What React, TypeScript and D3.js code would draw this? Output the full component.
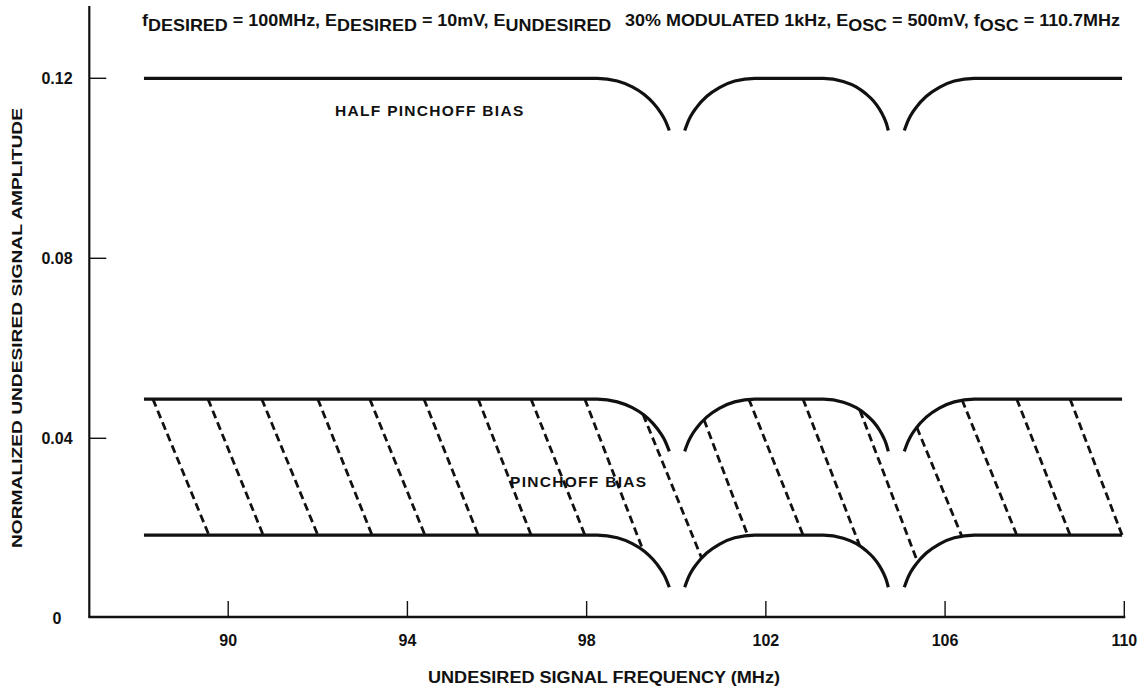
import React from "react";
import * as d3 from "d3";

// ---- data ----
const xTicks = [90, 94, 98, 102, 106, 110];
const yTicks = [0, 0.04, 0.08, 0.12];
const yTickLabels = ["0", "0.04", "0.08", "0.12"];

// Half pinchoff bias curve (three pieces separated by the dips)
const halfPinchA: [number, number][] = [[88.12, 0.12], [98.238, 0.12], [98.684, 0.1194], [99.019, 0.1181], [99.287, 0.1164], [99.488, 0.1145], [99.644, 0.1125], [99.756, 0.1106], [99.845, 0.1084]];
const halfPinchB: [number, number][] = [[100.189, 0.1084], [100.256, 0.1102], [100.323, 0.1116], [100.457, 0.1136], [100.68, 0.116], [100.97, 0.118], [101.305, 0.1194], [101.751, 0.12], [103.282, 0.12], [103.728, 0.1193], [104.019, 0.1181], [104.242, 0.1165], [104.398, 0.115], [104.532, 0.1132], [104.621, 0.1116], [104.688, 0.11], [104.733, 0.1084]];
const halfPinchC: [number, number][] = [[105.09, 0.1084], [105.157, 0.1102], [105.224, 0.1116], [105.358, 0.1136], [105.581, 0.116], [105.871, 0.118], [106.206, 0.1194], [106.652, 0.12], [109.95, 0.12]];

// Pinchoff bias: upper boundary
const pinchUpperA: [number, number][] = [[88.12, 0.0487], [98.238, 0.0487], [98.684, 0.0481], [99.019, 0.0468], [99.287, 0.0451], [99.488, 0.0432], [99.644, 0.0412], [99.756, 0.0393], [99.845, 0.0371]];
const pinchUpperB: [number, number][] = [[100.189, 0.0371], [100.256, 0.0389], [100.323, 0.0403], [100.457, 0.0423], [100.68, 0.0447], [100.97, 0.0467], [101.305, 0.0481], [101.751, 0.0487], [103.282, 0.0487], [103.728, 0.048], [104.019, 0.0468], [104.242, 0.0452], [104.398, 0.0437], [104.532, 0.0419], [104.621, 0.0403], [104.688, 0.0387], [104.733, 0.0371]];
const pinchUpperC: [number, number][] = [[105.09, 0.0371], [105.157, 0.0389], [105.224, 0.0403], [105.358, 0.0423], [105.581, 0.0447], [105.871, 0.0467], [106.206, 0.0481], [106.652, 0.0487], [109.95, 0.0487]];

// Pinchoff bias: lower boundary
const pinchLowerA: [number, number][] = [[88.12, 0.0185], [98.238, 0.0185], [98.684, 0.0179], [99.019, 0.0166], [99.287, 0.0149], [99.488, 0.013], [99.644, 0.011], [99.756, 0.0091], [99.845, 0.0069]];
const pinchLowerB: [number, number][] = [[100.189, 0.0069], [100.256, 0.0087], [100.323, 0.0101], [100.457, 0.0121], [100.68, 0.0145], [100.97, 0.0165], [101.305, 0.0179], [101.751, 0.0185], [103.282, 0.0185], [103.728, 0.0178], [104.019, 0.0166], [104.242, 0.015], [104.398, 0.0135], [104.532, 0.0117], [104.621, 0.0101], [104.688, 0.0085], [104.733, 0.0069]];
const pinchLowerC: [number, number][] = [[105.09, 0.0069], [105.157, 0.0087], [105.224, 0.0101], [105.358, 0.0121], [105.581, 0.0145], [105.871, 0.0165], [106.206, 0.0179], [106.652, 0.0185], [109.95, 0.0185]];

// Dashed hatch lines across the pinchoff band
const hatchTopF = [88.32, 89.55, 90.75, 92.0, 93.16, 94.37, 95.58, 96.76, 97.96, 99.26, 100.62, 101.62, 102.83, 104.1, 105.37, 106.38, 107.6, 108.79];
const hatchTopV = [0.0487, 0.0487, 0.0487, 0.0487, 0.0487, 0.0487, 0.0487, 0.0487, 0.0487, 0.0453, 0.0441, 0.0487, 0.0487, 0.0462, 0.0424, 0.0485, 0.0487, 0.0487];
const hatchBotF = [89.57, 90.78, 92.0, 93.21, 94.39, 95.58, 96.76, 97.96, 99.26, 100.57, 101.6, 102.83, 104.1, 105.39, 106.38, 107.6, 108.79, 109.95];
const hatchBotV = [0.0185, 0.0185, 0.0185, 0.0185, 0.0185, 0.0185, 0.0185, 0.0185, 0.0151, 0.0133, 0.0183, 0.0185, 0.016, 0.0124, 0.0181, 0.0185, 0.0185, 0.0185];

const curves = [halfPinchA, halfPinchB, halfPinchC, pinchUpperA, pinchUpperB, pinchUpperC, pinchLowerA, pinchLowerB, pinchLowerC];

const FONT = "'Liberation Sans', Arial, Helvetica, sans-serif";

export default function App() {
  const width = 1138;
  const height = 688;
  const x = d3.scaleLinear().domain([86.9, 110]).range([89.3, 1124.3]);
  const y = d3.scaleLinear().domain([0, 0.12]).range([618.3, 78.3]);
  const axisY = 617;
  const line = d3
    .line<[number, number]>()
    .x((d) => x(d[0]))
    .y((d) => y(d[1]))
    .curve(d3.curveMonotoneX);

  const sub = 5;
  return (
    <svg
      width={width}
      height={height}
      style={{ position: "absolute", left: 0, top: 0, background: "#fff" }}
      fontFamily={FONT}
      fontWeight="bold"
    >
      <rect x={0} y={0} width={width} height={height} fill="#fff" />
      {/* title */}
      <text x={142} y={26} fontSize={16.5} textLength={978} lengthAdjust="spacingAndGlyphs" fill="#111">
        f<tspan dy={sub}>DESIRED</tspan>
        <tspan dy={-sub}> = 100MHz, E</tspan>
        <tspan dy={sub}>DESIRED</tspan>
        <tspan dy={-sub}> = 10mV, E</tspan>
        <tspan dy={sub}>UNDESIRED</tspan>
        <tspan dy={-sub} dx={8}> 30% MODULATED 1kHz, E</tspan>
        <tspan dy={sub}>OSC</tspan>
        <tspan dy={-sub}> = 500mV, f</tspan>
        <tspan dy={sub}>OSC</tspan>
        <tspan dy={-sub}> = 110.7MHz</tspan>
      </text>

      {/* axes */}
      <line x1={x(86.9)} x2={x(86.9)} y1={6} y2={axisY} stroke="#111" strokeWidth={2.2} />
      <line x1={x(86.9) - 1} x2={x(110) + 1} y1={axisY} y2={axisY} stroke="#111" strokeWidth={2.5} />
      {yTicks.map((t, i) => (
        <g key={"yt" + t}>
          {t > 0 && <line x1={x(86.9)} x2={x(86.9) + 17} y1={y(t)} y2={y(t)} stroke="#111" strokeWidth={1.4} />}
          <text x={57} y={y(t) + 5.5} fontSize={16} textAnchor="middle" fill="#111">
            {yTickLabels[i]}
          </text>
        </g>
      ))}
      {xTicks.map((t) => (
        <g key={"xt" + t}>
          <line x1={x(t)} x2={x(t)} y1={axisY} y2={axisY - 16} stroke="#111" strokeWidth={1.4} />
          <text x={x(t)} y={646} fontSize={16} textAnchor="middle" fill="#111">
            {t}
          </text>
        </g>
      ))}
      <text x={604} y={683} fontSize={16} textAnchor="middle" textLength={352} lengthAdjust="spacingAndGlyphs" fill="#111">
        UNDESIRED SIGNAL FREQUENCY (MHz)
      </text>
      <text
        transform={`translate(22, ${328}) rotate(-90)`}
        x={0}
        y={0}
        fontSize={15}
        textAnchor="middle"
        textLength={440}
        lengthAdjust="spacingAndGlyphs"
        fill="#111"
      >
        NORMALIZED UNDESIRED SIGNAL AMPLITUDE
      </text>

      {/* hatch */}
      {hatchTopF.map((f, i) => (
        <line
          key={"h" + i}
          x1={x(f)}
          y1={y(hatchTopV[i])}
          x2={x(hatchBotF[i])}
          y2={y(hatchBotV[i])}
          stroke="#111"
          strokeWidth={2.8}
          strokeDasharray="8 4.5"
        />
      ))}

      {/* curves */}
      {curves.map((c, i) => (
        <path key={"c" + i} d={line(c) || ""} fill="none" stroke="#111" strokeWidth={3.2} strokeLinecap="butt" />
      ))}

      {/* annotations */}
      <text x={335} y={116} fontSize={15.5} letterSpacing={1.3} fill="#111">
        HALF PINCHOFF BIAS
      </text>
      <text x={510} y={487} fontSize={15.5} letterSpacing={1.3} fill="#111">
        PINCHOFF BIAS
      </text>
    </svg>
  );
}
